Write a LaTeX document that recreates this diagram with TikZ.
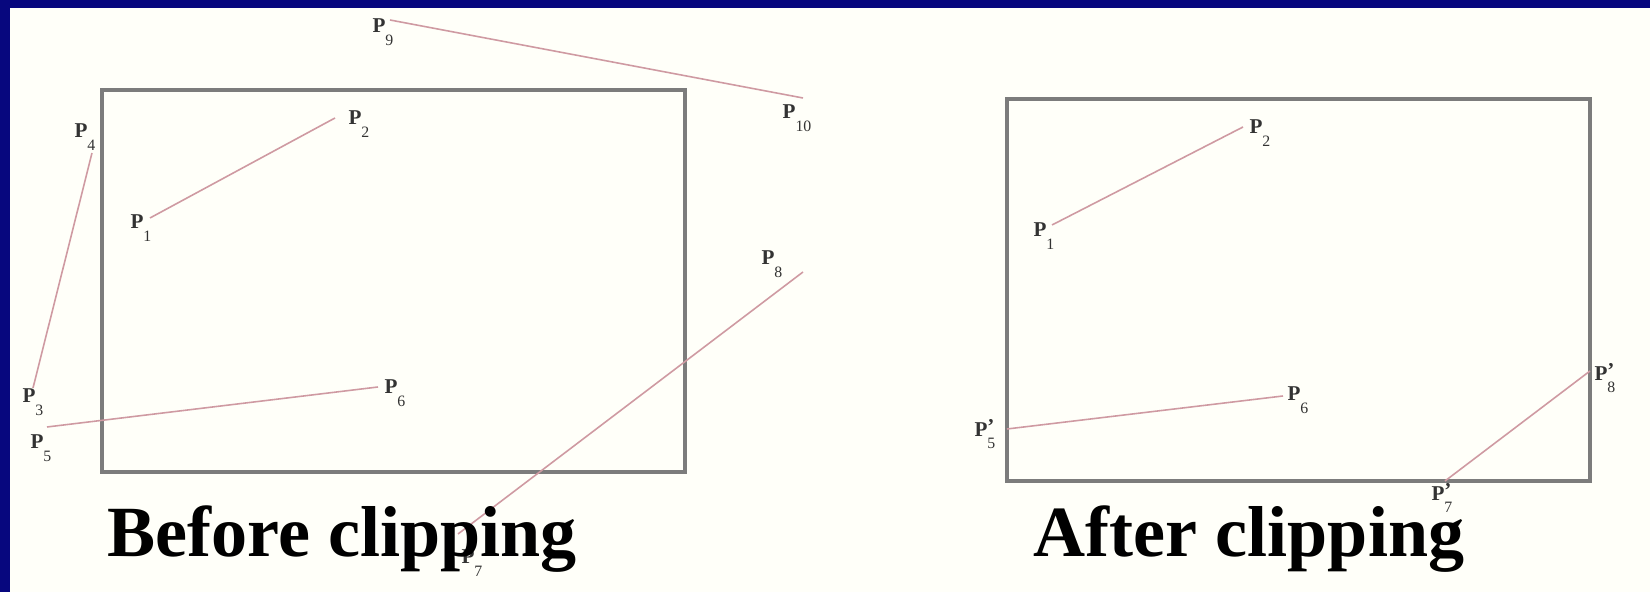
\documentclass[tikz,border=0pt]{standalone}
\usepackage{fontspec}
\setmainfont{Liberation Serif}
\usetikzlibrary{positioning}
\definecolor{mynavy}{HTML}{07077E}
\definecolor{myrose}{HTML}{CF9AA2}
\definecolor{mygray}{HTML}{7C7C7C}
\definecolor{mycream}{HTML}{FFFFF9}
\newcommand{\ptname}[2]{\textbf{P}\rlap{\raisebox{.3ex}{\textbf{#2}}}\raisebox{-1.3ex}{\fontsize{4.5}{5}\selectfont #1}}
\tikzset{
	cliprect/.style={
			draw=mygray,
			line width=0.9pt
		},
	segment/.style={
			draw=myrose,
			line width=0.45pt
		},
	ptlabel/.style={
			inner sep=0pt,
			font=\fontsize{6}{7}\selectfont,
			text=black!80
		},
	caption/.style={
			inner sep=0pt,
			anchor=base west,
			font=\fontsize{20.5}{24}\selectfont\bfseries
		}
}

\begin{document}
\begin{tikzpicture}[x=0.01cm, y=-0.01cm]

              \fill[mycream] (0,0) rectangle (1650,592);
              \fill[mynavy] (0,0) rectangle (1650,8);
              \fill[mynavy] (0,0) rectangle (10,592);
              \useasboundingbox (0,0) rectangle (1650,592);

              % before clipping
              \draw[cliprect] (102,90) rectangle (685,472);

              \coordinate (b1) at (150,218);
              \coordinate (b2) at (335,118);
              \coordinate (b3) at (33,388);
              \coordinate (b4) at (92,153);
              \coordinate (b5) at (47,427);
              \coordinate (b6) at (378,387);
              \coordinate (b7) at (458,534);
              \coordinate (b8) at (803,272);
              \coordinate (b9) at (390,20);
              \coordinate (b10) at (803,98);

              \draw[segment] (b1) -- (b2);
              \draw[segment] (b3) -- (b4);
              \draw[segment] (b5) -- (b6);
              \draw[segment] (b7) -- (b8);
              \draw[segment] (b9) -- (b10);

              \node[ptlabel] (lb1) at (141,228) {\ptname{1}{}};
              \node[ptlabel] (lb2) at (359,124) {\ptname{2}{}};
              \node[ptlabel] (lb3) at (33,402) {\ptname{3}{}};
              \node[ptlabel] (lb4) at (85,137) {\ptname{4}{}};
              \node[ptlabel] (lb5) at (41,448) {\ptname{5}{}};
              \node[ptlabel] (lb6) at (395,393) {\ptname{6}{}};
              \node[ptlabel] (lb7) at (472,563) {\ptname{7}{}};
              \node[ptlabel] (lb8) at (772,264) {\ptname{8}{}};
              \node[ptlabel] (lb9) at (383,32) {\ptname{9}{}};
              \node[ptlabel] (lb10) at (797,118) {\ptname{10}{}};

              \node[caption] (before) at (107,557) {Before clipping};

              % after clipping
              \draw[cliprect] (1007,99) rectangle (1590,481);

              \coordinate (a1) at (1052,225);
              \coordinate (a2) at (1243,127);
              \coordinate (a5) at (1007,429);
              \coordinate (a6) at (1283,396);
              \coordinate (a7) at (1445,481);
              \coordinate (a8) at (1590,371);

              \draw[segment] (a1) -- (a2);
              \draw[segment] (a5) -- (a6);
              \draw[segment] (a7) -- (a8);

              \node[ptlabel] (la1) at (1044,236) {\ptname{1}{}};
              \node[ptlabel] (la2) at (1260,133) {\ptname{2}{}};
              \node[ptlabel] (la5) at (985,434) {\ptname{5}{'}};
              \node[ptlabel] (la6) at (1298,400) {\ptname{6}{}};
              \node[ptlabel] (la7) at (1442,498) {\ptname{7}{'}};
              \node[ptlabel] (la8) at (1605,378) {\ptname{8}{'}};

              \node[caption] (after) at (1033,557) {After clipping};

            \end{tikzpicture}
\end{document}
